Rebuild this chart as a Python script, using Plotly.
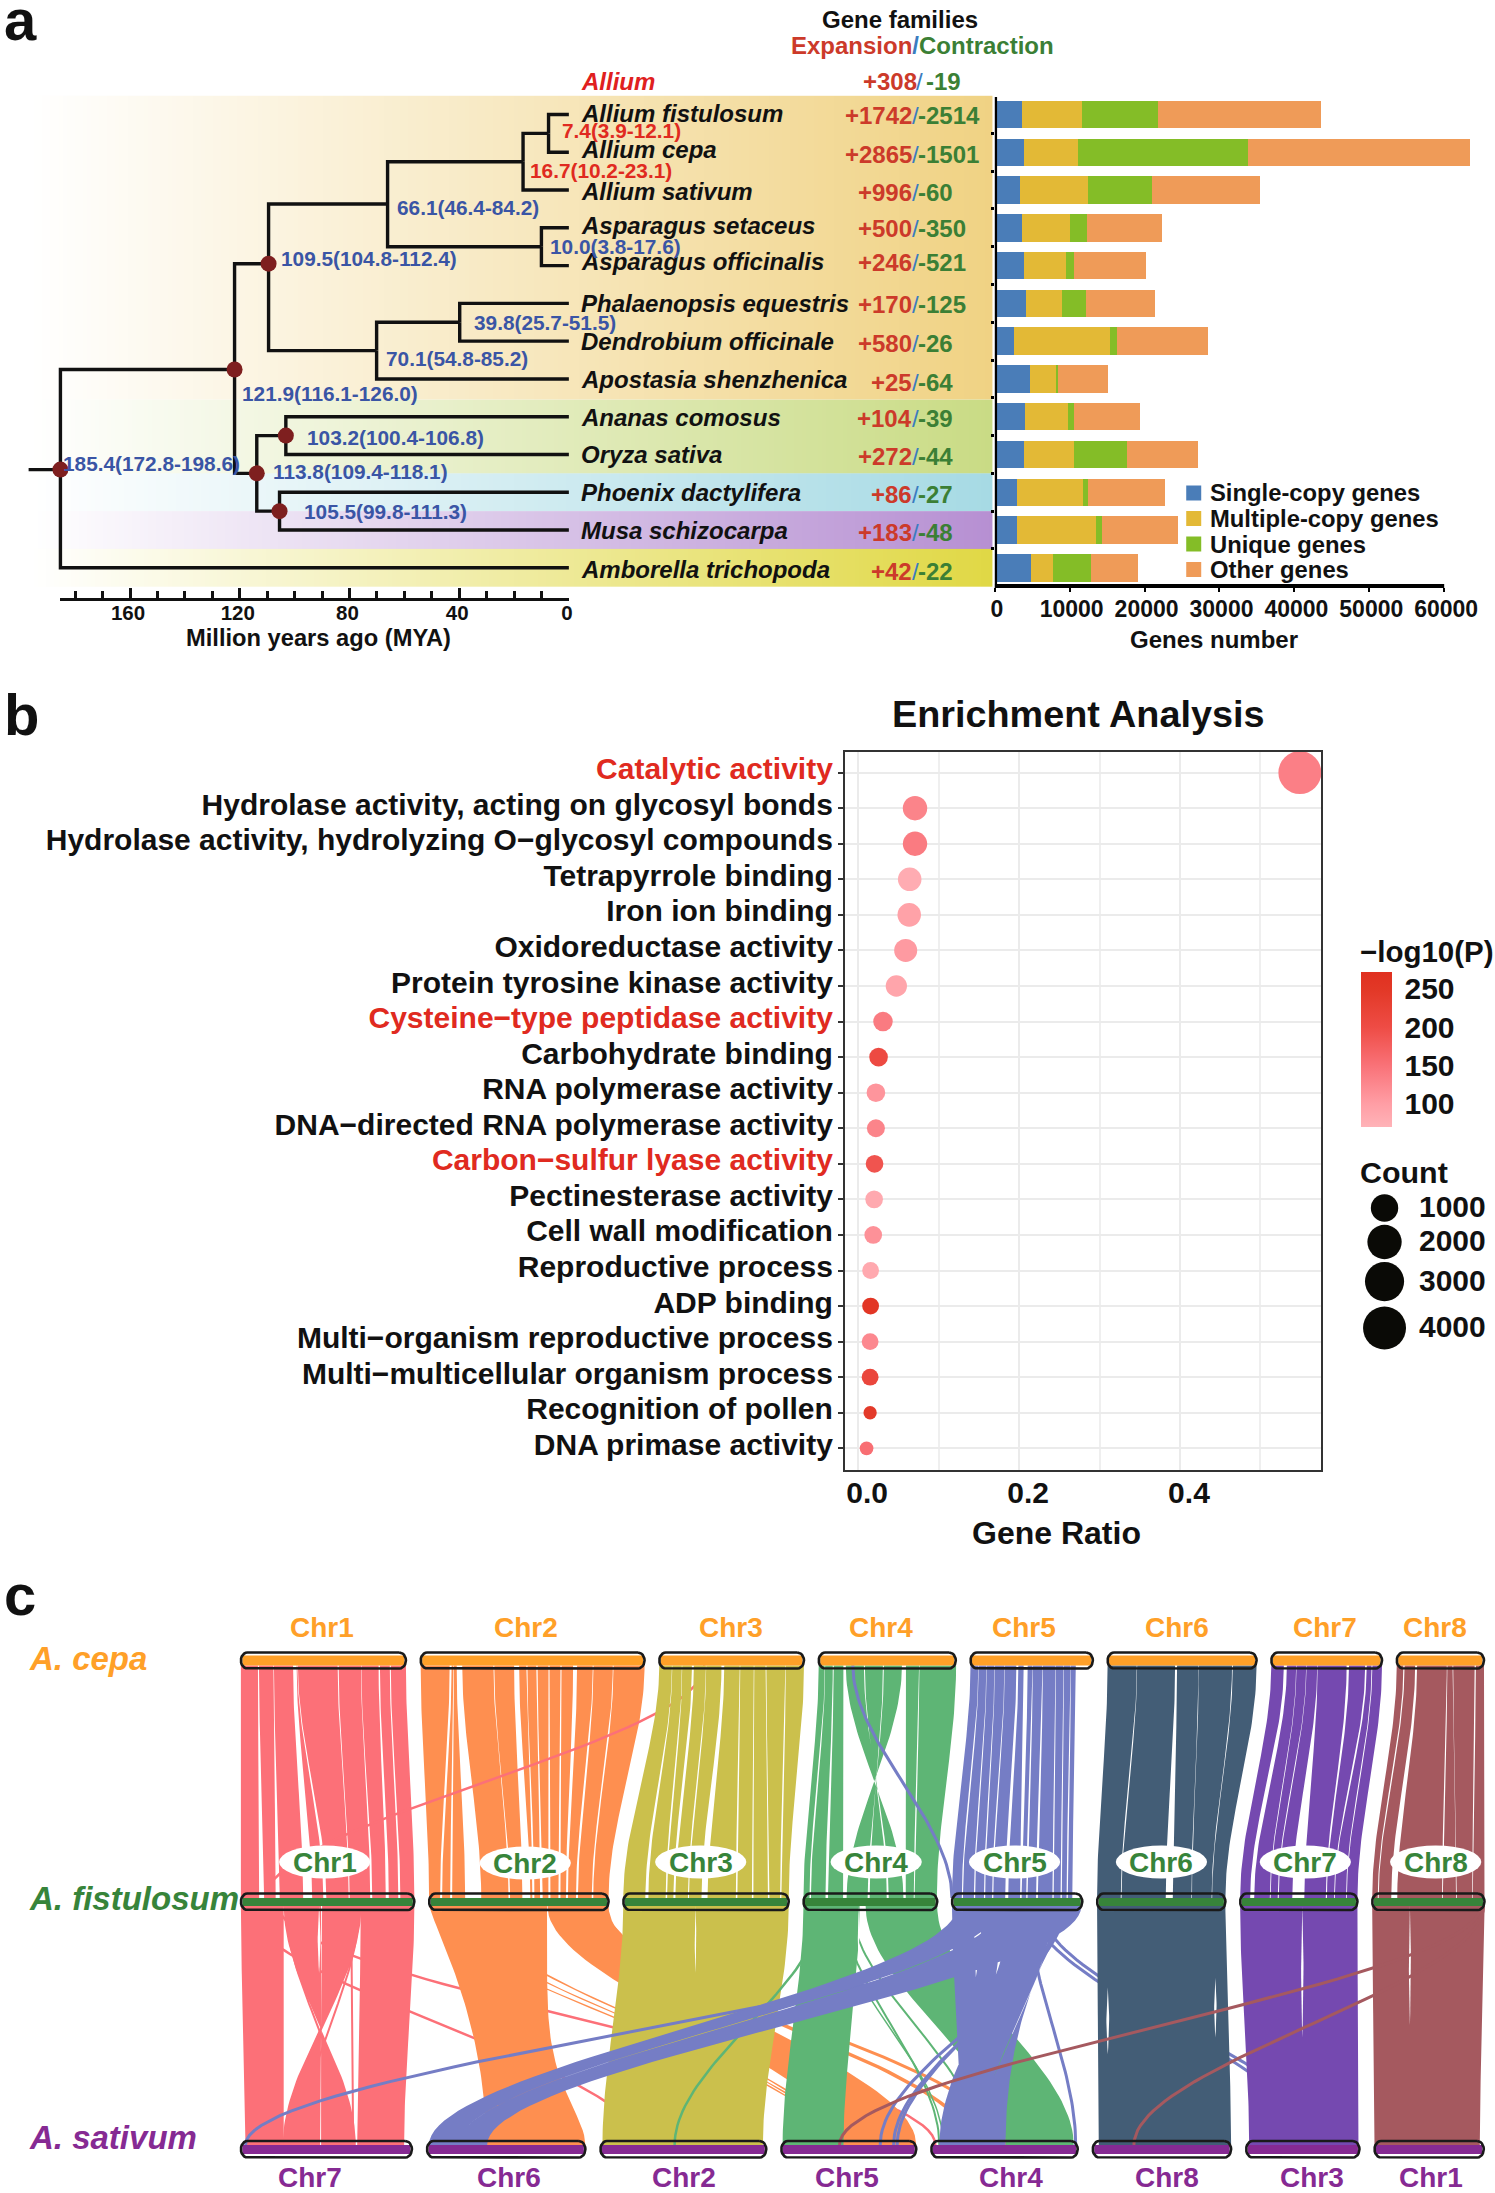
import numpy as np
import plotly.graph_objects as go

W, H = 1495, 2193
FONT = "Liberation Sans"

# ---------- Panel a data ----------
species = ["Allium fistulosum", "Allium cepa", "Allium sativum", "Asparagus setaceus", "Asparagus officinalis",
           "Phalaenopsis equestris", "Dendrobium officinale", "Apostasia shenzhenica", "Ananas comosus",
           "Oryza sativa", "Phoenix dactylifera", "Musa schizocarpa", "Amborella trichopoda"]
expansion = [1742, 2865, 996, 500, 246, 170, 580, 25, 104, 272, 86, 183, 42]
contraction = [2514, 1501, 60, 350, 521, 125, 26, 64, 39, 44, 27, 48, 22]
single_copy = [3600, 3850, 3300, 3660, 3850, 4210, 2630, 4640, 3970, 3850, 2930, 2930, 4880]
multi_copy = [8000, 7200, 9100, 6410, 5620, 4700, 12700, 3600, 5800, 6780, 8910, 10560, 2930]
unique_genes = [10200, 22770, 8600, 2260, 1160, 3300, 1040, 180, 855, 7080, 670, 855, 5010]
other_genes = [21700, 29670, 14400, 10010, 9520, 9160, 12150, 6650, 8790, 9460, 10200, 10130, 6350]
gene_series = ["Single-copy genes", "Multiple-copy genes", "Unique genes", "Other genes"]

tree_nodes = {
    "n1": (7.4, 0.5, ["L0", "L1"], "3.9-12.1", False),
    "n2": (16.7, 1.25, ["n1", "L2"], "10.2-23.1", False),
    "n3": (10.0, 3.5, ["L3", "L4"], "3.8-17.6", False),
    "n4": (66.1, 2.37, ["n2", "n3"], "46.4-84.2", False),
    "n5": (39.8, 5.5, ["L5", "L6"], "25.7-51.5", False),
    "n6": (70.1, 6.25, ["n5", "L7"], "54.8-85.2", False),
    "n7": (109.5, 3.95, ["n4", "n6"], "104.8-112.4", True),
    "n8": (103.2, 8.5, ["L8", "L9"], "100.4-106.8", True),
    "n9": (105.5, 10.5, ["L10", "L11"], "99.8-111.3", True),
    "n10": (113.8, 9.5, ["n8", "n9"], "109.4-118.1", True),
    "n11": (121.9, 6.75, ["n7", "n10"], "116.1-126.0", True),
    "n12": (185.4, 9.4, ["n11", "L12"], "172.8-198.6", True),
}
bands = [(-0.5, 7.55, "#F0D283"), (7.55, 9.5, "#C9DB84"), (9.5, 10.5, "#A6DAE4"),
         (10.5, 11.5, "#B68FD2"), (11.5, 12.5, "#E0D844")]

# ---------- Panel b data ----------
terms = ["Catalytic activity", "Hydrolase activity, acting on glycosyl bonds",
         "Hydrolase activity, hydrolyzing O−glycosyl compounds", "Tetrapyrrole binding", "Iron ion binding",
         "Oxidoreductase activity", "Protein tyrosine kinase activity", "Cysteine−type peptidase activity",
         "Carbohydrate binding", "RNA polymerase activity", "DNA−directed RNA polymerase activity",
         "Carbon−sulfur lyase activity", "Pectinesterase activity", "Cell wall modification", "Reproductive process",
         "ADP binding", "Multi−organism reproductive process", "Multi−multicellular organism process",
         "Recognition of pollen", "DNA primase activity"]
red_terms = ["Catalytic activity", "Cysteine−type peptidase activity", "Carbon−sulfur lyase activity"]
gene_ratio = [0.549, 0.0707, 0.0707, 0.0641, 0.0635, 0.0591, 0.0475, 0.0309, 0.0254, 0.0221, 0.0221, 0.0204,
              0.0199, 0.0188, 0.0155, 0.0155, 0.0149, 0.0149, 0.0149, 0.0105]
gene_count = [4000, 700, 700, 626, 626, 585, 462, 351, 305, 305, 275, 261, 261, 261, 223, 223, 223, 223, 108, 119]
log_p = [135, 130, 140, 80, 95, 105, 90, 140, 205, 110, 130, 190, 85, 115, 85, 255, 125, 215, 245, 155]
count_legend = [1000, 2000, 3000, 4000]

# ---------- Panel c data ----------
cepa_len = [164.6, 223.3, 144.3, 136.7, 122.0, 148.6, 110.4, 87.0]
fist_len = [173.0, 179.0, 165.0, 133.4, 130.0, 128.0, 117.0, 112.0]
sat_names = ["Chr7", "Chr6", "Chr2", "Chr5", "Chr4", "Chr8", "Chr3", "Chr1"]
sat_len = [170.6, 158.0, 165.4, 134.6, 146.0, 138.0, 113.0, 109.0]
chr_colors = ["#FC7078", "#FE8F50", "#CBC04C", "#5EB575", "#757DC5", "#435D76", "#7549B0", "#A5595F"]

cf_extent = [(164.6, 173), (223.3, 179), (144.3, 165), None, (105, 120), (148.6, 128), (110.4, 117), (87, 112)]
cf_gaps = [
    [(17.5, 20.7, 1, 5), (32.7, 36.7, .5, 4), (53.8, 66.6, 3.5, 9), (56.6, 83.7, .5, 3), (97, 108, 1, 1),
     (120, 130, .4, 2), (138, 146, 1.3, 3), (149, 158, 1, 2)],
    [(29.9, 12, 2, 2), (33, 22, .5, 2), (38.7, 44, 5.5, 16), (73, 80, .8, 1.5), (95.7, 97, 5, 8), (106, 104, 1, 2),
     (116, 112, 1.2, 2.5), (128, 120, 1, 2), (140, 130, 1, 2), (154, 137.5, 4, 2), (172, 147.5, .8, 2), (192, 163, .8, 1.5)],
    [(12.8, 23.5, .4, 3), (22.7, 43, .4, 1.5), (33.5, 51, 2, 2), (46.6, 65, .4, 1), (63.4, 81, 2.8, 6), (80.5, 113, .5, 1.5),
     (94.5, 129, .5, 1.5), (106.4, 145, .8, 1.5), (126, 157, .4, 1.2)],
    [],
    [(8, 10.4, .4, 1.2), (16, 22.5, .4, 1.2), (24, 32.5, .4, 1.2), (34, 40.6, .4, 1.2), (46.7, 54.6, 2, 3), (55, 68.7, 4, 1.5),
     (62, 74.7, .4, 1.2), (72, 84.8, .5, 1.8), (85, 100.8, .4, 1.2), (93, 108.9, .4, 1.2), (100, 114.9, .4, 1.2)],
    [(29.3, 24, .4, .8), (68.3, 72, 2, 7), (90.8, 94.4, .4, .6), (124.5, 114.5, .8, .6)],
    [(14, 12, 3, 4), (25, 30, .4, .8), (35, 38, .4, 1), (46, 58, .4, 12), (76.3, 86, 2.4, 1.2), (94.4, 94, 1.6, .8), (100.4, 106, .8, .8)],
    [(7.2, 6, 1.2, 1), (19.3, 22, 2, 6), (50.2, 70, .6, .8), (56, 84, .6, .8), (78.3, 100, 1.2, .6)],
]
cf_blocks_chr4 = [(0, 6, 0, 6), (6.4, 14, 7.5, 22), (15, 24.6, 24.5, 39.5), (27, 45, 99.7, 85), (46, 64, 83, 66), (65, 83, 64, 43),
                  (87, 100, 102, 110), (100.5, 137, 110.8, 133)]
cf_lines = [(2, 45, 0, 25, 2.5, 0), (3, 34, 4, 0, 3, 4)]

fs_blocks = [
    (0, 0, 42.7, "Chr7", 4.6, 42.7, 1, 1), (0, 42.7, 80, "Chr7", 114.6, 80, 1, 1), (0, 81, 119.6, "Chr7", 79, 42.7, 1, 1),
    (0, 119.6, 173, "Chr7", 116, 162.8, 1, 1),
    (1, 0, 117.6, "Chr6", 59, 158, .6, 2.8), (1, 118, 179, "Chr5", 60, 134.6, 1, 1),
    (1, 43, 46.5, "Chr5", 52, 55, 1, 1), (1, 25, 28, "Chr5", 49, 51.5, 1, 1), (1, 8, 11, "Chr5", 46, 48.5, 1, 1),
    (2, 0, 165, "Chr2", 2, 162, 1, 1),
    (3, 0, 56, "Chr5", 1.3, 62, 1, 1), (3, 62, 133.4, "Chr4", 74, 142, 1, 1),
    (4, 0, 22, "Chr4", 30, 50, 1, 1), (4, 30, 50, "Chr4", 22, 40, 1, 1), (4, 58, 100, "Chr4", 8, 48, 1, 1), (4, 100, 125, "Chr4", 48, 74, 1, .5),
    (4, 5, 47, "Chr6", 2, 31, 1, 1), (4, 49, 129, "Chr6", 31, 60, 1, 1),
    (5, 0, 128, "Chr8", 6, 138, 1, 1), (6, 0, 117, "Chr3", 3, 112, 1, 1), (7, 0, 112, "Chr1", 0, 105, 1, 1),
]
fs_lines = [
    (0, 38, "Chr4", 4, 2.5), (0, 8, "Chr2", 39, 2.5),
    (0, 119, "Chr7", 43, 2.5), (0, 118, "Chr7", 60, 2), (0, 110, "Chr7", 112, 2), (0, 45, "Chr7", 108, 2),
    (1, 175, "Chr4", 75, 3), (1, 170, "Chr4", 40, 3.5),
    (3, 18, "Chr2", 74, 2.5), (3, 40, "Chr4", 8, 2), (3, 48, "Chr4", 48, 2), (3, 30, "Chr4", 12, 1.5),
    (4, 125, "Chr7", 4.6, 3), (4, 112, "Chr5", 98.6, 3), (4, 108, "Chr5", 112, 3), (4, 104, "Chr5", 115.6, 3),
    (4, 88, "Chr3", 75, 3), (4, 80, "Chr3", 65, 3), (4, 77, "Chr4", 144, 3),
    (7, 108, "Chr5", 58, 3), (7, 111, "Chr8", 41, 3),
]
fs_slits = [(0, 78, 0, .28, 1.4), (2, 72, 0, .28, .8), (3, 55, 0, .25, .8), (5, 10.7, .34, .62, 1.4), (5, 118, .3, .55, 1.2),
            (6, 62, 0, .55, 1.2), (7, 37.6, 0, .5, 1.0)]

# ---------- helpers ----------
annos, shapes = [], []
X_SHIFT, X_SCALE = 6.15, 0.992
def px(x): return ((x - X_SHIFT) / X_SCALE) / W
def py(y): return 1 - y / H
def txt(x, y, s, size, color="#111111", anchor="left", bold=True, italic=False):
    annos.append(dict(x=px(x), y=py(y), xref="paper", yref="paper", text=s, showarrow=False, xanchor=anchor, yanchor="middle",
                      font=dict(family=FONT, size=size, color=color, weight=700 if bold else 400,
                                style="italic" if italic else "normal"), borderpad=0, borderwidth=0))

fig = go.Figure()
ROW0, ROWH = 114.5, 37.78
def row_px(r): return ROW0 + ROWH * r

# ---------- Panel a : tree ----------
TX0, TX1 = 20, 992
MY = 2.735
ZERO = 569.5
tree_range = [(ZERO - TX0) / MY, (ZERO - TX1) / MY]
for (a, b, c) in bands:
    xs = np.linspace(tree_range[0], tree_range[1], 241)
    frac = np.clip((ZERO - MY * xs[:-1] - 32) / (TX1 - 32), 0, 1)
    fig.add_trace(go.Heatmap(x=xs, y=[a, b], z=[frac], zmin=0, zmax=1, colorscale=[[0, "#FFFFFF"], [1, c]],
                             showscale=False, xaxis="x", yaxis="y", hoverinfo="skip"))
def node_pos(name):
    if name.startswith("L"):
        return 0.0, float(name[1:])
    return tree_nodes[name][0], tree_nodes[name][1]
tx, ty = [], []
for name, (age, row, kids, _, _) in tree_nodes.items():
    for k in kids:
        ka, kr = node_pos(k)
        tx += [age, age, ka, None]
        ty += [row, kr, kr, None]
root_age, root_row = node_pos("n12")
tx += [197, root_age, None]
ty += [root_row, root_row, None]
fig.add_trace(go.Scatter(x=tx, y=ty, mode="lines", line=dict(color="#111111", width=3.4), xaxis="x", yaxis="y", hoverinfo="skip"))
dots = [node_pos(n) for n, v in tree_nodes.items() if v[4]]
fig.add_trace(go.Scatter(x=[d[0] for d in dots], y=[d[1] for d in dots], mode="markers",
                         marker=dict(color="#7E1F1F", size=16), xaxis="x", yaxis="y", hoverinfo="skip"))
fig.add_trace(go.Scatter(x=[0], y=[0], mode="markers", marker=dict(opacity=0), xaxis="x3", yaxis="y3", hoverinfo="skip"))

# ---------- Panel a : bars ----------
bar_colors = ["#4A7DB8", "#E3B936", "#84BD27", "#EF9B58"]
rows = list(range(13))
for nm, vals, c in zip(gene_series, [single_copy, multi_copy, unique_genes, other_genes], bar_colors):
    fig.add_trace(go.Bar(x=vals, y=rows, name=nm, orientation="h", marker=dict(color=c, line=dict(width=0)), xaxis="x2", yaxis="y2",
                         width=0.725, hoverinfo="skip"))
shapes.append(dict(type="line", xref="x2", yref="paper", x0=0, x1=0, y0=py(97), y1=py(588), line=dict(color="#000", width=4.6), layer="above"))
shapes.append(dict(type="line", xref="x2", yref="paper", x0=0, x1=60000, y0=py(585.9), y1=py(585.9), line=dict(color="#000", width=4), layer="above"))

# panel a text
name_dy = [0, -1.4, 2.8, -1.4, -2.8, 1.4, 1.4, 1.4, 1.4, 1.4, 1.4, 1.4, 2.8]
num_dy = [-1.4, 0, 0, -1.4, -5.6, -1.4, 0, 1.4, 0, 0, 0, 0, 1.4]
for i, s in enumerate(species):
    y = row_px(i)
    txt(581.6, y - 1 + name_dy[i], s, 24, "#111111", italic=True)
    txt(912, y + 2 + num_dy[i], "+%d" % expansion[i], 24, "#CC3A2A", "right")
    txt(915, y + 2 + num_dy[i], "/", 24, "#3A7CC0", "center", bold=False)
    txt(918, y + 2 + num_dy[i], "-%d" % contraction[i], 24, "#3B7F35")
txt(581.6, 81, "Allium", 24, "#E02020", italic=True)
txt(917, 81, "+308", 24, "#CC3A2A", "right")
txt(919.5, 81, "/", 24, "#3A7CC0", "center", bold=False)
txt(926, 81, "-19", 24, "#3B7F35")
txt(900, 19, "Gene families", 24, "#111111", "center")
txt(922, 45.5, '<span style="color:#CC3A2A">Expansion</span><span style="color:#3A7CC0">/</span><span style="color:#3B7F35">Contraction</span>', 24, "#CC3A2A", "center")
node_labels = [("7.4(3.9-12.1)", 562.5, 130.5, "#E02A20"), ("16.7(10.2-23.1)", 530.6, 170.5, "#E02A20"),
               ("66.1(46.4-84.2)", 398.6, 207.5, "#3A55A5"), ("10.0(3.8-17.6)", 551, 246.6, "#3A55A5"),
               ("109.5(104.8-112.4)", 282.5, 258.8, "#3A55A5"), ("39.8(25.7-51.5)", 474.5, 322.8, "#3A55A5"),
               ("70.1(54.8-85.2)", 387, 358.6, "#3A55A5"), ("121.9(116.1-126.0)", 244, 393.5, "#3A55A5"),
               ("103.2(100.4-106.8)", 308, 437.7, "#3A55A5"), ("113.8(109.4-118.1)", 274, 471.4, "#3A55A5"),
               ("105.5(99.8-111.3)", 305, 511.4, "#3A55A5"), ("185.4(172.8-198.6)", 65, 463.8, "#3A55A5")]
for s, x, y, c in node_labels:
    txt(x, y, s, 20.8, c)
txt(320, 638, "Million years ago (MYA)", 23.7, "#111111", "center")
txt(1213, 639, "Genes number", 24, "#111111", "center")
leg_y = [493, 518.5, 544, 569.5]
for s, y in zip(gene_series, leg_y):
    txt(1208.6, y, s, 23.8, "#111111")
fig.add_trace(go.Scatter(x=[1192.7] * 4, y=leg_y, mode="markers", marker=dict(symbol="square", size=15, color=bar_colors),
                         xaxis="x5", yaxis="y5", hoverinfo="skip"))
txt(X_SHIFT, 19, "a", 58, "#111111")
txt(X_SHIFT, 715, "b", 58, "#111111")
txt(X_SHIFT, 1594, "c", 58, "#111111")

# ---------- Panel b ----------
def size_of(c):
    return 2.9 * np.asarray(c, dtype=float) ** 0.325
fig.add_trace(go.Scatter(
    x=gene_ratio, y=list(range(20)), mode="markers", xaxis="x4", yaxis="y4", hoverinfo="skip",
    marker=dict(size=size_of(gene_count), color=log_p, cmin=70, cmax=272, opacity=1, line=dict(width=0),
                colorscale=[[0, "#FFB3B8"], [0.149, "#FF9EA5"], [0.396, "#F97278"], [0.644, "#EE4C45"], [0.891, "#E23826"], [1, "#E03020"]],
                colorbar=dict(x=px(1359.4), xanchor="left", y=py(971.8), yanchor="top", len=154.9, lenmode="pixels", thickness=31,
                              thicknessmode="pixels", xpad=0, ypad=0, outlinewidth=0, tickvals=[100, 150, 200, 250],
                              ticks="outside", tickcolor="#FFFFFF", ticklen=7, tickwidth=1,
                              tickfont=dict(family=FONT, size=30, color="#111", weight=700)))))
txt(1359, 951, "−log10(P)", 29.5, "#111111")
txt(1359, 1172, "Count", 30.4, "#111111")
for v, yy in zip([250, 200, 150, 100], [988.6, 1027, 1066, 1104]):
    shapes.append(dict(type="line", xref="paper", yref="paper", x0=px(1359.4), x1=px(1365), y0=py(yy), y1=py(yy), line=dict(color="#FFF", width=1), layer="above"))
    shapes.append(dict(type="line", xref="paper", yref="paper", x0=px(1384.5), x1=px(1390.4), y0=py(yy), y1=py(yy), line=dict(color="#FFF", width=1), layer="above"))
cy = [1208, 1242, 1281.6, 1328]
lab_y = [1206, 1240, 1280, 1326]
fig.add_trace(go.Scatter(x=[1383] * 4, y=cy, mode="markers", marker=dict(size=size_of(count_legend), color="#0A0A06", opacity=1, line=dict(width=0)),
                         xaxis="x5", yaxis="y5", hoverinfo="skip"))
for c, y in zip(count_legend, lab_y):
    txt(1417.5, y, str(c), 30, "#111111")
txt(1078, 713.7, "Enrichment Analysis", 37.8, "#111111", "center")
txt(1056, 1533, "Gene Ratio", 32, "#111111", "center")

# ---------- Panel c ----------
def starts(lengths, gap, x0=242.4):
    out, x = [], x0
    for l in lengths:
        out.append(x)
        x += l + gap
    return out
cepa_x = starts(cepa_len, 14.7)
fist_x = starts(fist_len, 14.7)
sat_x = starts(sat_len, 15.0)
sat_idx = {n: i for i, n in enumerate(sat_names)}
Y_T = (1652.5, 1655.5, 1665.5, 1668.5)
Y_M = (1893.5, 1898.0, 1906.0, 1910.0)
Y_B = (2141.0, 2145.0, 2154.0, 2157.5)
tt = np.linspace(0, 1, 50)
def sig(t, p=1.0):
    u = t ** p
    return 3 * u * u - 2 * u * u * u
def ribbon(a0, a1, b0, b1, y0, y1, pl=1, pr=1):
    l = a0 + (b0 - a0) * sig(tt, pl)
    r = a1 + (b1 - a1) * sig(tt, pr)
    y = y0 + (y1 - y0) * tt
    return list(l) + list(r[::-1]) + [None], list(y) + list(y[::-1]) + [None]
def blocks_from_gaps(ea, eb, gaps):
    out = []
    pa, pb = 0.0, 0.0
    for (ga, gb, wa, wb) in gaps:
        out.append((pa, ga - wa / 2, pb, gb - wb / 2))
        pa, pb = ga + wa / 2, gb + wb / 2
    out.append((pa, ea, pb, eb))
    return out
def add_poly(xs, ys, color):
    fig.add_trace(go.Scatter(x=xs, y=ys, mode="lines", fill="toself", fillcolor=color, line=dict(width=0, color=color),
                             xaxis="x5", yaxis="y5", hoverinfo="skip"))
def add_link(a, b, y0, y1, w, color):
    l = a + (b - a) * sig(tt)
    y = y0 + (y1 - y0) * tt
    fig.add_trace(go.Scatter(x=l, y=y, mode="lines", line=dict(width=w, color=color), xaxis="x5", yaxis="y5", hoverinfo="skip"))

for i in range(8):
    xs, ys = [], []
    bl = cf_blocks_chr4 if i == 3 else blocks_from_gaps(cf_extent[i][0], cf_extent[i][1], cf_gaps[i])
    for (a0, a1, b0, b1) in bl:
        xx, yy = ribbon(cepa_x[i] + a0, cepa_x[i] + a1, fist_x[i] + b0, fist_x[i] + b1, Y_T[2], Y_M[1])
        xs += xx; ys += yy
    if i == 2:
        c_i, c_a, f_i, f_b, w, col = cf_lines[0]
        add_link(cepa_x[c_i] + c_a, fist_x[f_i] + f_b, Y_T[2], Y_M[1], w, chr_colors[col])
    add_poly(xs, ys, chr_colors[i])
    if i == 4:
        c_i, c_a, f_i, f_b, w, col = cf_lines[1]
        add_link(cepa_x[c_i] + c_a, fist_x[f_i] + f_b, Y_T[2], Y_M[1], w, chr_colors[col])

for i in range(8):
    xs, ys = [], []
    for (m, a0, a1, sn, b0, b1, pl, pr) in fs_blocks:
        if m != i:
            continue
        s = sat_x[sat_idx[sn]]
        xx, yy = ribbon(fist_x[m] + a0, fist_x[m] + a1, s + b0, s + b1, Y_M[2], Y_B[1], pl, pr)
        xs += xx; ys += yy
    for (m, a, sn, b, w) in fs_lines:
        if m == i and i != 7:
            add_link(fist_x[m] + a, sat_x[sat_idx[sn]] + b, Y_M[2], Y_B[1], w, chr_colors[m])
    add_poly(xs, ys, chr_colors[i])
    for (m, a, t0, t1, w) in fs_slits:
        if m == i:
            t = np.linspace(t0, t1, 20)
            hw = w * np.sin(np.pi * (t - t0) / (t1 - t0))
            y = Y_M[2] + (Y_B[1] - Y_M[2]) * t
            add_poly(list(fist_x[m] + a - hw) + list((fist_x[m] + a + hw)[::-1]), list(y) + list(y[::-1]), "#FFFFFF")
for (m, a, sn, b, w) in fs_lines:
    if m == 7:
        add_link(fist_x[m] + a, sat_x[sat_idx[sn]] + b, Y_M[2], Y_B[1], w, chr_colors[m])

def bar_outline(x0, x1, y0, y1, r=6.5):
    th = np.linspace(-np.pi / 2, np.pi / 2, 13)
    cy_, ry = (y0 + y1) / 2, (y1 - y0) / 2
    right_x = x1 - r + r * np.cos(th)
    right_y = cy_ + ry * np.sin(th)
    left_x = x0 + r - r * np.cos(th[::-1])
    left_y = cy_ + ry * np.sin(th[::-1])
    return list(right_x) + list(left_x) + [right_x[0]], list(right_y) + list(left_y) + [right_y[0]]
TIERS = [(cepa_x, cepa_len, Y_T, "#FFA028"), (fist_x, fist_len, Y_M, "#37843A"), (sat_x, sat_len, Y_B, "#862A93")]
for starts_, lens, Y, col in TIERS:
    for s, l in zip(starts_, lens):
        xs = [s + 1.5, s + l - 1.5, s + l - 1.5, s + 1.5, s + 1.5]
        ys = [Y[1], Y[1], Y[2], Y[2], Y[1]]
        add_poly(xs, ys, col)
        ox, oy = bar_outline(s, s + l, Y[0], Y[3])
        fig.add_trace(go.Scatter(x=ox, y=oy, mode="lines", line=dict(color="#1A1A1A", width=2.6), xaxis="x5", yaxis="y5", hoverinfo="skip"))

top_lab_x = [323, 527, 731, 881, 1023.6, 1175.7, 1323.5, 1433]
mid_lab_x = [326, 526, 701, 876, 1014, 1160.5, 1304, 1434]
bot_lab_x = [311.7, 510, 684, 847, 1010.6, 1166, 1311, 1429.5]
for k, x in enumerate(top_lab_x):
    txt(x, 1627, "Chr%d" % (k + 1), 28, "#FFA028", "center")
for k, x in enumerate(mid_lab_x):
    y = 1863 if k == 1 else 1862
    shapes.append(dict(type="circle", xref="paper", yref="paper", x0=px(x - 45.5), x1=px(x + 45.5), y0=py(y - 16.5), y1=py(y + 16.5),
                       fillcolor="#FFFFFF", line=dict(width=0), layer="above"))
    txt(x, y, "Chr%d" % (k + 1), 28, "#37843A", "center")
for n, x in zip(sat_names, bot_lab_x):
    txt(x, 2177, n, 28, "#862A93", "center")
txt(31.5, 1658, "A. cepa", 33, "#FFA028", italic=True)
txt(31.5, 1898, "A. fistulosum", 33, "#37843A", italic=True)
txt(31.5, 2137, "A. sativum", 33, "#862A93", italic=True)

# ---------- Axes ----------
hidden = dict(visible=False, fixedrange=True)
term_ticks = ['<span style="color:#E02A20">%s</span>' % t if t in red_terms else t for t in terms]
b_left, b_right, b_top, b_bot = 845, 1320, 752, 1470
b_unit = 160.5 / 0.2
fig.update_layout(
    width=W, height=H, margin=dict(l=0, r=0, t=0, b=0), paper_bgcolor="#FFFFFF", plot_bgcolor="rgba(0,0,0,0)",
    showlegend=False, barmode="stack", annotations=annos, shapes=shapes,
    font=dict(family=FONT, color="#111111"),
    xaxis=dict(domain=[px(TX0), px(TX1)], range=tree_range, **hidden),
    yaxis=dict(domain=[py(586.7), py(95.6)], range=[12.5, -0.5], **hidden),
    xaxis2=dict(domain=[px(994.3), px(1480)], range=[0, 65020], anchor="y2", showline=False, showgrid=False, zeroline=False,
                tickvals=[0, 10000, 20000, 30000, 40000, 50000, 60000], tickformat="d", ticks="outside", ticklen=4, tickwidth=2, tickcolor="#000",
                ticklabelstandoff=-2, ticklabelshift=2, tickfont=dict(family=FONT, size=23, color="#111", weight=700)),
    yaxis2=dict(domain=[py(586.7), py(95.6)], range=[12.5, -0.5], anchor="x2", showgrid=False, zeroline=False, showline=False,
                tickvals=[k + 0.5 for k in range(12)], ticktext=[""] * 12, ticks="outside", ticklen=3, tickwidth=3, tickcolor="#000"),
    xaxis3=dict(domain=[px(ZERO - 185.4 * MY), px(ZERO)], range=[185.4, 0], anchor="free", position=py(598.5), showline=True, linewidth=3,
                linecolor="#111", showgrid=False, zeroline=False, tick0=0, dtick=40, ticks="inside", ticklen=10, tickwidth=3, tickcolor="#111",
                minor=dict(dtick=10, tick0=0, ticks="inside", ticklen=7, tickwidth=2.5, tickcolor="#111", showgrid=False),
                ticklabelstandoff=-5, ticklabelshift=2, tickfont=dict(family=FONT, size=20.5, color="#111", weight=700)),
    yaxis3=dict(domain=[py(598.5), py(590)], range=[0, 1], anchor="x3", **hidden),
    xaxis4=dict(domain=[px(b_left), px(b_right)], range=[(b_left - 858) / b_unit, (b_right - 858) / b_unit], anchor="y4", tickvals=[0, 0.2, 0.4],
                ticktext=["0.0", "0.2", "0.4"], showgrid=True, gridcolor="#EBEBEB", gridwidth=2, zeroline=False, showline=True, mirror=True,
                linecolor="#333", linewidth=2.4, ticks="", ticklabelshift=9, ticklabelstandoff=-5,
                minor=dict(tickvals=[0.1, 0.3, 0.5], showgrid=True, gridcolor="#EFEFEF", gridwidth=1.5, ticks=""),
                tickfont=dict(family=FONT, size=30, color="#111", weight=700)),
    yaxis4=dict(domain=[py(b_bot), py(b_top)], range=[19.61, -0.58], anchor="x4", tickvals=list(range(20)), ticktext=term_ticks, showgrid=True,
                gridcolor="#EBEBEB", gridwidth=2, zeroline=False, showline=True, mirror=True, linecolor="#333", linewidth=2.4, ticks="outside",
                ticklen=5, tickwidth=2, tickcolor="#333", ticklabelstandoff=-1, ticklabelshift=4,
                tickfont=dict(family=FONT, size=30, color="#111", weight=700)),
    xaxis5=dict(domain=[0, 1], range=[X_SHIFT, X_SHIFT + X_SCALE * W], anchor="y5", **hidden),
    yaxis5=dict(domain=[0, 1], range=[H, 0], anchor="x5", **hidden),
)
fig.write_html("out.html", config=dict(displayModeBar=False),
               post_script="document.body.style.margin='0';document.documentElement.style.overflow='hidden';")
